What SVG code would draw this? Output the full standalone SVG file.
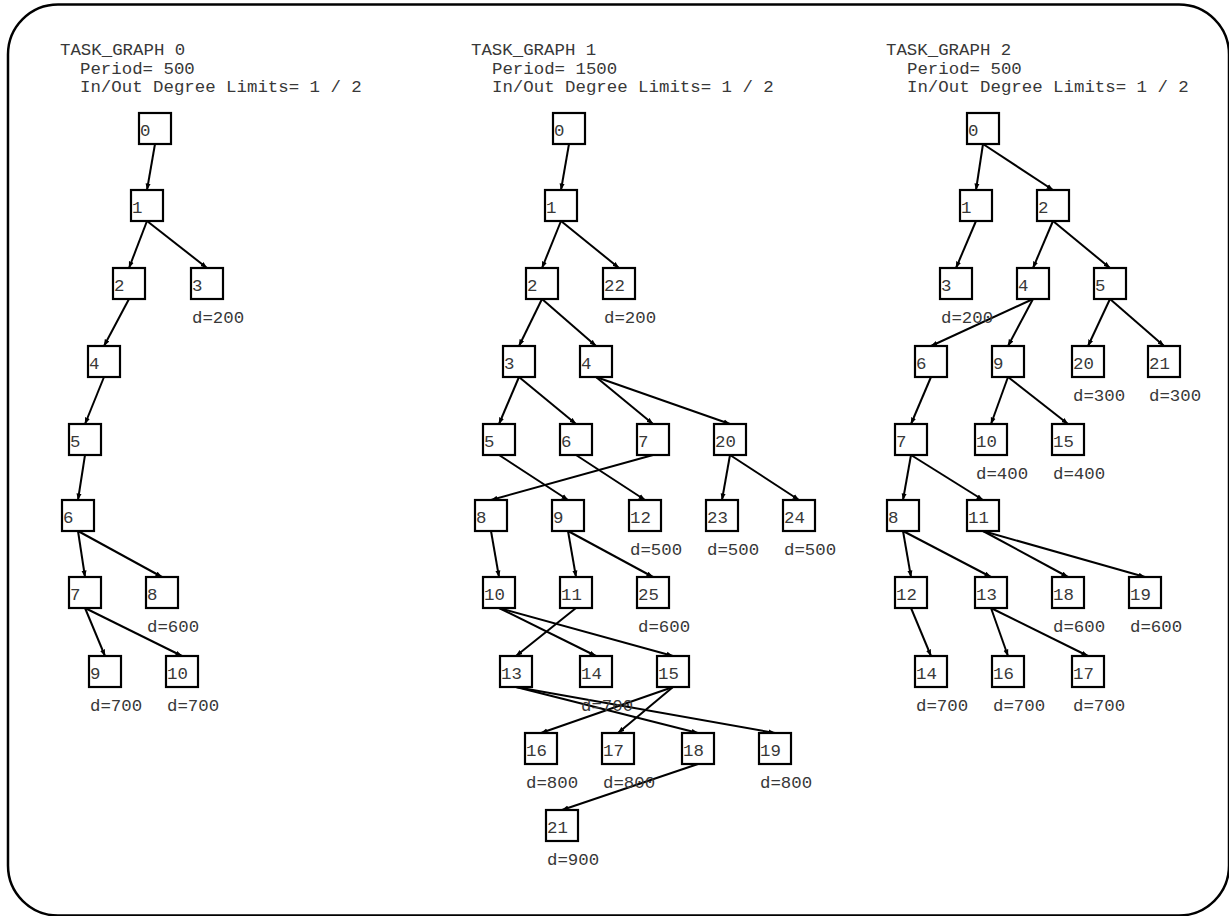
<svg xmlns="http://www.w3.org/2000/svg" width="1229" height="916" viewBox="0 0 1229 916">
<style>
  .box { fill: #fff; stroke: #000; stroke-width: 2.2; }
  .lbl { font-family: "Liberation Mono", "DejaVu Sans Mono", monospace; font-size: 17.4px; fill: #383838; }
  .hdr { font-family: "Liberation Mono", "DejaVu Sans Mono", monospace; font-size: 17.4px; fill: #383838; white-space: pre; }
  .edge { stroke: #000; stroke-width: 2; fill: none; marker-end: url(#ah); }
</style>
<defs>
  <marker id="ah" markerUnits="userSpaceOnUse" markerWidth="7" markerHeight="6" refX="6.5" refY="3" orient="auto">
    <path d="M0,0.5 L7,3 L0,5.5 z" fill="#000"/>
  </marker>
</defs>
<rect x="8" y="4.5" width="1221" height="911" rx="50" ry="50" fill="#fff" stroke="#000" stroke-width="2.5"/>

<g id="headers">
  <text class="hdr" x="60" y="55">TASK_GRAPH 0</text>
  <text class="hdr" x="80" y="74">Period= 500</text>
  <text class="hdr" x="80" y="92">In/Out Degree Limits= 1 / 2</text>
  <text class="hdr" x="471" y="55">TASK_GRAPH 1</text>
  <text class="hdr" x="492" y="74">Period= 1500</text>
  <text class="hdr" x="492" y="92">In/Out Degree Limits= 1 / 2</text>
  <text class="hdr" x="886" y="55">TASK_GRAPH 2</text>
  <text class="hdr" x="907" y="74">Period= 500</text>
  <text class="hdr" x="907" y="92">In/Out Degree Limits= 1 / 2</text>
</g>

<g id="connectors">
  <!-- TG0 -->
  <line class="edge" x1="155" y1="144" x2="147" y2="190"/>
  <line class="edge" x1="147" y1="221" x2="129" y2="268"/>
  <line class="edge" x1="147" y1="221" x2="207" y2="268"/>
  <line class="edge" x1="129" y1="299" x2="104" y2="346"/>
  <line class="edge" x1="104" y1="377" x2="85" y2="424"/>
  <line class="edge" x1="85" y1="455" x2="78" y2="500"/>
  <line class="edge" x1="78" y1="531" x2="85" y2="577"/>
  <line class="edge" x1="78" y1="531" x2="162" y2="577"/>
  <line class="edge" x1="85" y1="608" x2="105" y2="656"/>
  <line class="edge" x1="85" y1="608" x2="182" y2="656"/>
  <!-- TG1 -->
  <line class="edge" x1="569" y1="144" x2="561" y2="190"/>
  <line class="edge" x1="561" y1="221" x2="542" y2="268"/>
  <line class="edge" x1="561" y1="221" x2="619" y2="268"/>
  <line class="edge" x1="542" y1="299" x2="519" y2="346"/>
  <line class="edge" x1="542" y1="299" x2="596" y2="346"/>
  <line class="edge" x1="519" y1="377" x2="499" y2="424"/>
  <line class="edge" x1="519" y1="377" x2="576" y2="424"/>
  <line class="edge" x1="596" y1="377" x2="653" y2="424"/>
  <line class="edge" x1="596" y1="377" x2="730" y2="424"/>
  <line class="edge" x1="499" y1="455" x2="568" y2="500"/>
  <line class="edge" x1="576" y1="455" x2="645" y2="500"/>
  <line class="edge" x1="653" y1="455" x2="491" y2="500"/>
  <line class="edge" x1="730" y1="455" x2="722" y2="500"/>
  <line class="edge" x1="730" y1="455" x2="799" y2="500"/>
  <line class="edge" x1="491" y1="531" x2="499" y2="577"/>
  <line class="edge" x1="568" y1="531" x2="576" y2="577"/>
  <line class="edge" x1="568" y1="531" x2="653" y2="577"/>
  <line class="edge" x1="499" y1="608" x2="596" y2="656"/>
  <line class="edge" x1="499" y1="608" x2="673" y2="656"/>
  <line class="edge" x1="576" y1="608" x2="516" y2="656"/>
  <line class="edge" x1="516" y1="687" x2="698" y2="733"/>
  <line class="edge" x1="516" y1="687" x2="775" y2="733"/>
  <line class="edge" x1="673" y1="687" x2="541" y2="733"/>
  <line class="edge" x1="673" y1="687" x2="618" y2="733"/>
  <line class="edge" x1="698" y1="764" x2="562" y2="810"/>
  <!-- TG2 -->
  <line class="edge" x1="983" y1="144" x2="976" y2="190"/>
  <line class="edge" x1="983" y1="144" x2="1053" y2="190"/>
  <line class="edge" x1="976" y1="221" x2="956" y2="268"/>
  <line class="edge" x1="1053" y1="221" x2="1033" y2="268"/>
  <line class="edge" x1="1053" y1="221" x2="1110" y2="268"/>
  <line class="edge" x1="1033" y1="299" x2="931" y2="346"/>
  <line class="edge" x1="1033" y1="299" x2="1008" y2="346"/>
  <line class="edge" x1="1110" y1="299" x2="1088" y2="346"/>
  <line class="edge" x1="1110" y1="299" x2="1164" y2="346"/>
  <line class="edge" x1="931" y1="377" x2="911" y2="424"/>
  <line class="edge" x1="1008" y1="377" x2="991" y2="424"/>
  <line class="edge" x1="1008" y1="377" x2="1068" y2="424"/>
  <line class="edge" x1="911" y1="455" x2="903" y2="500"/>
  <line class="edge" x1="911" y1="455" x2="983" y2="500"/>
  <line class="edge" x1="903" y1="531" x2="911" y2="577"/>
  <line class="edge" x1="903" y1="531" x2="991" y2="577"/>
  <line class="edge" x1="983" y1="531" x2="1068" y2="577"/>
  <line class="edge" x1="983" y1="531" x2="1145" y2="577"/>
  <line class="edge" x1="911" y1="608" x2="931" y2="656"/>
  <line class="edge" x1="991" y1="608" x2="1008" y2="656"/>
  <line class="edge" x1="991" y1="608" x2="1088" y2="656"/>
</g>

<!-- TG0 nodes -->
<g id="tg0-n0" transform="translate(139,113)"><rect class="box" width="32" height="31"/><text class="lbl" x="1" y="23">0</text></g>
<g id="tg0-n1" transform="translate(131,190)"><rect class="box" width="32" height="31"/><text class="lbl" x="1" y="23">1</text></g>
<g id="tg0-n2" transform="translate(113,268)"><rect class="box" width="32" height="31"/><text class="lbl" x="1" y="23">2</text></g>
<g id="tg0-n3" transform="translate(191,268)"><rect class="box" width="32" height="31"/><text class="lbl" x="1" y="23">3</text><text class="lbl" x="1" y="55">d=200</text></g>
<g id="tg0-n4" transform="translate(88,346)"><rect class="box" width="32" height="31"/><text class="lbl" x="1" y="23">4</text></g>
<g id="tg0-n5" transform="translate(69,424)"><rect class="box" width="32" height="31"/><text class="lbl" x="1" y="23">5</text></g>
<g id="tg0-n6" transform="translate(62,500)"><rect class="box" width="32" height="31"/><text class="lbl" x="1" y="23">6</text></g>
<g id="tg0-n7" transform="translate(69,577)"><rect class="box" width="32" height="31"/><text class="lbl" x="1" y="23">7</text></g>
<g id="tg0-n8" transform="translate(146,577)"><rect class="box" width="32" height="31"/><text class="lbl" x="1" y="23">8</text><text class="lbl" x="1" y="55">d=600</text></g>
<g id="tg0-n9" transform="translate(89,656)"><rect class="box" width="32" height="31"/><text class="lbl" x="1" y="23">9</text><text class="lbl" x="1" y="55">d=700</text></g>
<g id="tg0-n10" transform="translate(166,656)"><rect class="box" width="32" height="31"/><text class="lbl" x="1" y="23">10</text><text class="lbl" x="1" y="55">d=700</text></g>

<!-- TG1 nodes -->
<g id="tg1-n0" transform="translate(553,113)"><rect class="box" width="32" height="31"/><text class="lbl" x="1" y="23">0</text></g>
<g id="tg1-n1" transform="translate(545,190)"><rect class="box" width="32" height="31"/><text class="lbl" x="1" y="23">1</text></g>
<g id="tg1-n2" transform="translate(526,268)"><rect class="box" width="32" height="31"/><text class="lbl" x="1" y="23">2</text></g>
<g id="tg1-n22" transform="translate(603,268)"><rect class="box" width="32" height="31"/><text class="lbl" x="1" y="23">22</text><text class="lbl" x="1" y="55">d=200</text></g>
<g id="tg1-n3" transform="translate(503,346)"><rect class="box" width="32" height="31"/><text class="lbl" x="1" y="23">3</text></g>
<g id="tg1-n4" transform="translate(580,346)"><rect class="box" width="32" height="31"/><text class="lbl" x="1" y="23">4</text></g>
<g id="tg1-n5" transform="translate(483,424)"><rect class="box" width="32" height="31"/><text class="lbl" x="1" y="23">5</text></g>
<g id="tg1-n6" transform="translate(560,424)"><rect class="box" width="32" height="31"/><text class="lbl" x="1" y="23">6</text></g>
<g id="tg1-n7" transform="translate(637,424)"><rect class="box" width="32" height="31"/><text class="lbl" x="1" y="23">7</text></g>
<g id="tg1-n20" transform="translate(714,424)"><rect class="box" width="32" height="31"/><text class="lbl" x="1" y="23">20</text></g>
<g id="tg1-n8" transform="translate(475,500)"><rect class="box" width="32" height="31"/><text class="lbl" x="1" y="23">8</text></g>
<g id="tg1-n9" transform="translate(552,500)"><rect class="box" width="32" height="31"/><text class="lbl" x="1" y="23">9</text></g>
<g id="tg1-n12" transform="translate(629,500)"><rect class="box" width="32" height="31"/><text class="lbl" x="1" y="23">12</text><text class="lbl" x="1" y="55">d=500</text></g>
<g id="tg1-n23" transform="translate(706,500)"><rect class="box" width="32" height="31"/><text class="lbl" x="1" y="23">23</text><text class="lbl" x="1" y="55">d=500</text></g>
<g id="tg1-n24" transform="translate(783,500)"><rect class="box" width="32" height="31"/><text class="lbl" x="1" y="23">24</text><text class="lbl" x="1" y="55">d=500</text></g>
<g id="tg1-n10" transform="translate(483,577)"><rect class="box" width="32" height="31"/><text class="lbl" x="1" y="23">10</text></g>
<g id="tg1-n11" transform="translate(560,577)"><rect class="box" width="32" height="31"/><text class="lbl" x="1" y="23">11</text></g>
<g id="tg1-n25" transform="translate(637,577)"><rect class="box" width="32" height="31"/><text class="lbl" x="1" y="23">25</text><text class="lbl" x="1" y="55">d=600</text></g>
<g id="tg1-n13" transform="translate(500,656)"><rect class="box" width="32" height="31"/><text class="lbl" x="1" y="23">13</text></g>
<g id="tg1-n14" transform="translate(580,656)"><rect class="box" width="32" height="31"/><text class="lbl" x="1" y="23">14</text><text class="lbl" x="1" y="55">d=700</text></g>
<g id="tg1-n15" transform="translate(657,656)"><rect class="box" width="32" height="31"/><text class="lbl" x="1" y="23">15</text></g>
<g id="tg1-n16" transform="translate(525,733)"><rect class="box" width="32" height="31"/><text class="lbl" x="1" y="23">16</text><text class="lbl" x="1" y="55">d=800</text></g>
<g id="tg1-n17" transform="translate(602,733)"><rect class="box" width="32" height="31"/><text class="lbl" x="1" y="23">17</text><text class="lbl" x="1" y="55">d=800</text></g>
<g id="tg1-n18" transform="translate(682,733)"><rect class="box" width="32" height="31"/><text class="lbl" x="1" y="23">18</text></g>
<g id="tg1-n19" transform="translate(759,733)"><rect class="box" width="32" height="31"/><text class="lbl" x="1" y="23">19</text><text class="lbl" x="1" y="55">d=800</text></g>
<g id="tg1-n21" transform="translate(546,810)"><rect class="box" width="32" height="31"/><text class="lbl" x="1" y="23">21</text><text class="lbl" x="1" y="55">d=900</text></g>

<!-- TG2 nodes -->
<g id="tg2-n0" transform="translate(967,113)"><rect class="box" width="32" height="31"/><text class="lbl" x="1" y="23">0</text></g>
<g id="tg2-n1" transform="translate(960,190)"><rect class="box" width="32" height="31"/><text class="lbl" x="1" y="23">1</text></g>
<g id="tg2-n2" transform="translate(1037,190)"><rect class="box" width="32" height="31"/><text class="lbl" x="1" y="23">2</text></g>
<g id="tg2-n3" transform="translate(940,268)"><rect class="box" width="32" height="31"/><text class="lbl" x="1" y="23">3</text><text class="lbl" x="1" y="55">d=200</text></g>
<g id="tg2-n4" transform="translate(1017,268)"><rect class="box" width="32" height="31"/><text class="lbl" x="1" y="23">4</text></g>
<g id="tg2-n5" transform="translate(1094,268)"><rect class="box" width="32" height="31"/><text class="lbl" x="1" y="23">5</text></g>
<g id="tg2-n6" transform="translate(915,346)"><rect class="box" width="32" height="31"/><text class="lbl" x="1" y="23">6</text></g>
<g id="tg2-n9" transform="translate(992,346)"><rect class="box" width="32" height="31"/><text class="lbl" x="1" y="23">9</text></g>
<g id="tg2-n20" transform="translate(1072,346)"><rect class="box" width="32" height="31"/><text class="lbl" x="1" y="23">20</text><text class="lbl" x="1" y="55">d=300</text></g>
<g id="tg2-n21" transform="translate(1148,346)"><rect class="box" width="32" height="31"/><text class="lbl" x="1" y="23">21</text><text class="lbl" x="1" y="55">d=300</text></g>
<g id="tg2-n7" transform="translate(895,424)"><rect class="box" width="32" height="31"/><text class="lbl" x="1" y="23">7</text></g>
<g id="tg2-n10" transform="translate(975,424)"><rect class="box" width="32" height="31"/><text class="lbl" x="1" y="23">10</text><text class="lbl" x="1" y="55">d=400</text></g>
<g id="tg2-n15" transform="translate(1052,424)"><rect class="box" width="32" height="31"/><text class="lbl" x="1" y="23">15</text><text class="lbl" x="1" y="55">d=400</text></g>
<g id="tg2-n8" transform="translate(887,500)"><rect class="box" width="32" height="31"/><text class="lbl" x="1" y="23">8</text></g>
<g id="tg2-n11" transform="translate(967,500)"><rect class="box" width="32" height="31"/><text class="lbl" x="1" y="23">11</text></g>
<g id="tg2-n12" transform="translate(895,577)"><rect class="box" width="32" height="31"/><text class="lbl" x="1" y="23">12</text></g>
<g id="tg2-n13" transform="translate(975,577)"><rect class="box" width="32" height="31"/><text class="lbl" x="1" y="23">13</text></g>
<g id="tg2-n18" transform="translate(1052,577)"><rect class="box" width="32" height="31"/><text class="lbl" x="1" y="23">18</text><text class="lbl" x="1" y="55">d=600</text></g>
<g id="tg2-n19" transform="translate(1129,577)"><rect class="box" width="32" height="31"/><text class="lbl" x="1" y="23">19</text><text class="lbl" x="1" y="55">d=600</text></g>
<g id="tg2-n14" transform="translate(915,656)"><rect class="box" width="32" height="31"/><text class="lbl" x="1" y="23">14</text><text class="lbl" x="1" y="55">d=700</text></g>
<g id="tg2-n16" transform="translate(992,656)"><rect class="box" width="32" height="31"/><text class="lbl" x="1" y="23">16</text><text class="lbl" x="1" y="55">d=700</text></g>
<g id="tg2-n17" transform="translate(1072,656)"><rect class="box" width="32" height="31"/><text class="lbl" x="1" y="23">17</text><text class="lbl" x="1" y="55">d=700</text></g>
</svg>
